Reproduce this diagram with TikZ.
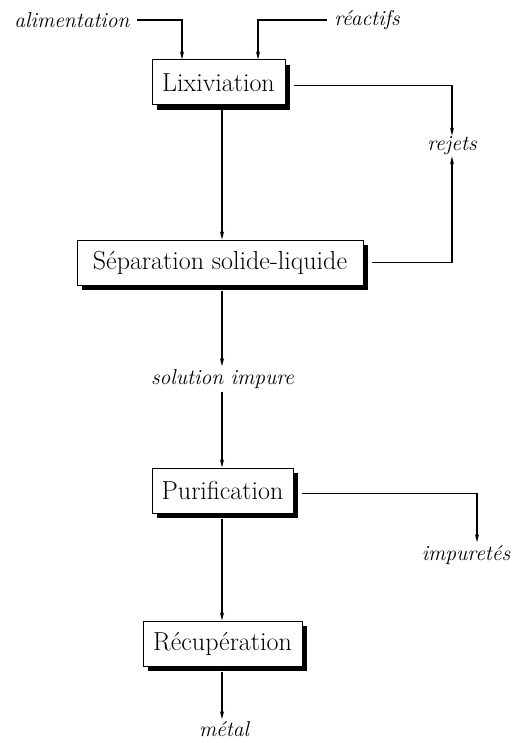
\documentclass[tikz,border=0pt]{standalone}
\usetikzlibrary{arrows.meta,shadows,calc}
\begin{document}
\begin{tikzpicture}[x=1pt,y=1pt,
  procbox/.style={draw=black,line width=1pt,fill=white,inner sep=0pt,
    minimum height=45pt,font=\fontsize{26}{30}\selectfont,
    drop shadow={shadow xshift=5pt,shadow yshift=-5pt,fill=black,opacity=1}},
  lbl/.style={inner sep=1pt,font=\fontsize{21.5}{25}\selectfont\itshape},
  flow/.style={line width=1.7pt,-{Stealth[length=8pt,width=4pt]}},
  plain/.style={line width=1.7pt}]
\useasboundingbox (0,0) rectangle (519,-743);
% boxes
\node[procbox,minimum width=133pt] (lix) at (218.5,-82.5) {Lixiviation};
\node[procbox,minimum width=286pt] (sep) at (220,-262.5) {Séparation solide-liquide};
\node[procbox,minimum width=141pt] (pur) at (222.5,-490.5) {Purification};
\node[procbox,minimum width=159pt] (rec) at (222.5,-643.5) {Récupération};
% labels
\node[lbl] (alim) at (72,-20) {alimentation};
\node[lbl] (reac) at (367,-20) {réactifs};
\node[lbl] (rej) at (452,-146) {rejets};
\node[lbl] (sol) at (222.5,-379) {solution impure};
\node[lbl] (imp) at (466,-555) {impuretés};
\node[lbl] (met) at (224,-729) {métal};
% column coordinates
\coordinate (colA) at (182,0);
\coordinate (colB) at (258,0);
\coordinate (col) at (222,0);
\coordinate (colR) at (452,0);
\coordinate (colI) at (477,0);
% connectors
\draw[flow] ([xshift=6pt]alim.east) -| (lix.north -| colA);
\draw[flow] ([xshift=-6pt]reac.west) -| (lix.north -| colB);
\draw[flow] ([xshift=8pt,yshift=-3pt]lix.east) -| (rej.north -| colR);
\draw[flow] ([xshift=8pt]sep.east) -| (rej.south -| colR);
\draw[flow] ([yshift=-5pt]lix.south -| col) -- (sep.north -| col);
\draw[flow] ([yshift=-5pt]sep.south -| col) -- ([yshift=2pt]sol.north -| col);
\draw[flow] ([yshift=-2pt]sol.south -| col) -- (pur.north -| col);
\draw[flow] ([xshift=8pt,yshift=-3pt]pur.east) -| ([yshift=2pt]imp.north -| colI);
\draw[flow] ([yshift=-5pt]pur.south -| col) -- (rec.north -| col);
\draw[flow] ([yshift=-5pt]rec.south -| col) -- ([yshift=1pt]met.north -| col);
\end{tikzpicture}
\end{document}
